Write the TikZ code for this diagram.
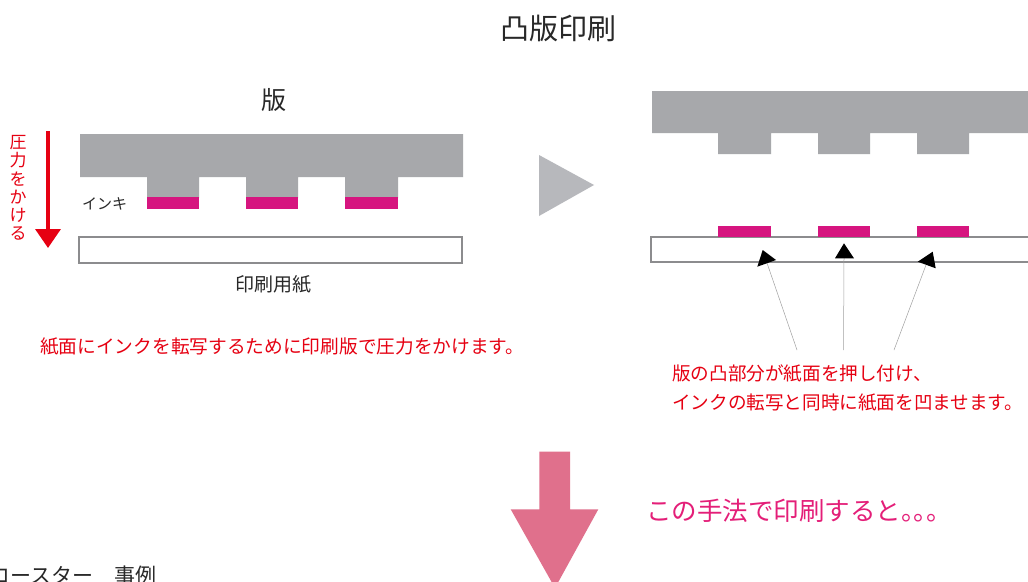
\documentclass[tikz,border=0pt]{standalone}
\usepackage{fontspec}
\usetikzlibrary{arrows.meta}
\newfontfamily\cjk{Noto Sans CJK JP}
\definecolor{plategray}{RGB}{167,168,171}
\definecolor{inkmag}{RGB}{214,21,127}
\definecolor{paperline}{RGB}{140,140,142}
\definecolor{trigray}{RGB}{183,184,188}
\definecolor{pressred}{RGB}{230,0,18}
\definecolor{bigpink}{RGB}{224,112,140}
\definecolor{textpink}{RGB}{228,30,120}
\definecolor{leadgray}{RGB}{160,160,160}
\definecolor{darktext}{RGB}{40,40,40}
\tikzset{
  platefill/.style={fill=plategray, draw=none},
  inkpad/.style={fill=inkmag, draw=none},
  paperbox/.style={draw=paperline, line width=1.6pt, fill=white},
  jtext/.style={font=\cjk, inner sep=0pt},
  leader/.style={draw=leadgray, line width=0.5pt},
  headfill/.style={fill=black, draw=none}
}
\begin{document}
\begin{tikzpicture}[x=1pt,y=-1pt]
\useasboundingbox (0,0) rectangle (1028,581);
\clip (0,0) rectangle (1028,581);
\fill[white] (0,0) rectangle (1028,581);

% title
\node[jtext, text=darktext, font=\cjk\fontsize{29}{32}\selectfont] (title) at (558,28) {凸版印刷};

% ---- left diagram ----
\node[jtext, text=darktext, font=\cjk\fontsize{25}{28}\selectfont] (han) at (274,100) {版};
\path[platefill] (80,134) -- (463,134) -- (463,177) -- (398,177) -- (398,198) -- (345,198) -- (345,177)
  -- (298,177) -- (298,198) -- (246,198) -- (246,177) -- (199,177) -- (199,198) -- (147,198) -- (147,177)
  -- (80,177) -- cycle;
\path[inkpad] (147,197) rectangle (199,209);
\path[inkpad] (246,197) rectangle (298,209);
\path[inkpad] (345,197) rectangle (398,209);
\node[jtext, text=darktext, anchor=west, font=\cjk\fontsize{15}{17}\selectfont] (ink) at (82,204) {インキ};
\node[paperbox, minimum width=383pt, minimum height=26pt, inner sep=0pt] (paperL) at (270.5,250) {};
\node[jtext, text=darktext, font=\cjk\fontsize{19}{22}\selectfont] (yoshi) at (273,284) {印刷用紙};

% pressure arrow
\coordinate (pa) at (48,131);
\coordinate (pb) at (48,248);
\draw[pressred, line width=3.5pt, -{Triangle[length=19pt,width=25pt]}] (pa) -- (pb);
\node[jtext, text=pressred, align=center, font=\cjk\fontsize{17}{18.3}\selectfont] (atsu) at (18,188) {圧\\力\\を\\か\\け\\る};

\node[jtext, text=pressred, anchor=west, font=\cjk\fontsize{18.7}{22}\selectfont] (capL) at (40,347) {紙面にインクを転写するために印刷版で圧力をかけます。};

% middle triangle
\fill[trigray] (539,155) -- (539,216) -- (594,185) -- cycle;

% ---- right diagram ----
\path[platefill] (652,91) -- (1040,91) -- (1040,133) -- (969,133) -- (969,154) -- (917,154) -- (917,133)
  -- (870,133) -- (870,154) -- (818,154) -- (818,133) -- (771,133) -- (771,154) -- (718,154) -- (718,133)
  -- (652,133) -- cycle;
\draw[paperbox] (1040,237) -- (651,237) -- (651,262) -- (1040,262);
\path[inkpad] (718,226) rectangle (771,237);
\path[inkpad] (818,226) rectangle (870,237);
\path[inkpad] (917,226) rectangle (969,237);

% pointer arrows
\coordinate (s1) at (797,350);
\coordinate (e1) at (767,263);
\coordinate (s2) at (843.5,350);
\coordinate (e2) at (844,258);
\coordinate (s3) at (894,350);
\coordinate (e3) at (926,265);
\draw[leader] (s1) -- (e1);
\draw[leader] (s2) -- (e2);
\draw[leader] (s3) -- (e3);
\path[headfill] (757.3,266.7) -- (762.7,250) -- (776,260) -- cycle;
\path[headfill] (835,258.3) -- (844,243.3) -- (854,258.3) -- cycle;
\path[headfill] (917.7,261.7) -- (932.7,251.7) -- (935.7,268.3) -- cycle;

\node[jtext, text=pressred, anchor=west, font=\cjk\fontsize{18.6}{29}\selectfont] (capR1) at (672,374) {版の凸部分が紙面を押し付け、};
\node[jtext, text=pressred, anchor=west, font=\cjk\fontsize{18.6}{29}\selectfont] (capR2) at (672,403) {インクの転写と同時に紙面を凹ませます。};

% ---- bottom ----
\fill[bigpink] (539.3,451.7) -- (570,451.7) -- (570,509.3) -- (598.3,509.3) -- (555,588) -- (510.7,509.3) -- (539.3,509.3) -- cycle;
\node[jtext, text=textpink, anchor=west, font=\cjk\fontsize{25.5}{28}\selectfont] (kono) at (646,511) {この手法で印刷すると{\addfontfeatures{RawFeature=+halt}。。。}};

\node[jtext, text=darktext, anchor=west, font=\cjk\fontsize{21}{24}\selectfont] (coaster) at (-11,576) {コースター　事例};
\end{tikzpicture}
\end{document}
